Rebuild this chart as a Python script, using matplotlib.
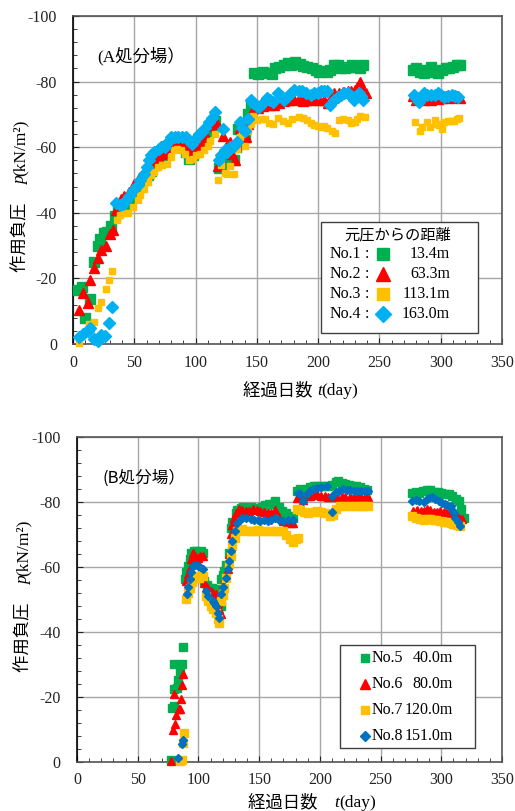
import matplotlib
matplotlib.use('Agg')
import matplotlib.pyplot as plt
from matplotlib.ticker import MultipleLocator
from matplotlib.patches import Rectangle

plt.rcParams['font.family'] = ['Liberation Serif', 'Noto Sans CJK JP']
plt.rcParams['axes.unicode_minus'] = False

# ---- (A処分場) : (経過日数, 作用負圧) ----
no1 = [(4, -16.5), (7, -17.3), (10, -7.9), (14, -13.7), (17, -24.9), (20, -29.9), (22, -31.9),
       (25, -33.9), (28, -34.1), (31, -36.1), (34, -39.1), (37, -40.5), (40, -41.5), (43, -42.3),
       (46, -43.8), (49, -45), (52, -46.5), (55, -48.4), (58, -50), (61, -51.5), (64, -52.6),
       (67, -54.5), (70, -56), (73, -57.5), (77, -60.5), (80, -60.5), (83, -60.8), (86, -60.5),
       (89, -60), (92, -58.5), (95, -56.5), (98, -57.5), (101, -58.5), (104, -60), (107, -62),
       (110, -65), (113, -66.5), (116, -68), (119, -53.7), (121, -55), (124, -56), (127, -56.5),
       (131, -56.2), (133, -60), (135, -65.6), (138, -64), (140, -63), (143, -70), (145, -72.5),
       (148, -82.5), (151, -82.3), (155, -82.8), (158, -82.5), (162, -82.2), (165, -84),
       (168, -84.5), (172, -85), (175, -85.6), (178, -85.2), (181, -86), (185, -85.5),
       (188, -84.8), (191, -84.5), (195, -84), (198, -83.5), (201, -83), (204, -83.2),
       (207, -82.8), (210, -83.5), (213, -85), (216, -85.2), (219, -84), (222, -84.2),
       (225, -84.5), (228, -85), (231, -84.5), (234, -84.2), (237, -85),
       (277, -83.6), (280, -84), (283, -83), (286, -82.5), (289, -83.5), (292, -84.6),
       (295, -83), (298, -82.5), (301, -83.5), (304, -84), (307, -84.2), (310, -84.5),
       (313, -85), (316, -85)]
no2 = [(5, -10.4), (8, -15.6), (12, -12.6), (14, -19.5), (17, -23.1), (20, -26.1), (23, -28.7),
       (27, -29.8), (30, -33.4), (33, -34.7), (35, -40.8), (39, -44.3), (42, -45), (46, -46.4),
       (50, -48.9), (53, -50), (55, -50.9), (58, -52.5), (61, -54.4), (64, -55.5), (66, -56.5),
       (69, -57.5), (72, -58), (75, -58.3), (78, -60), (80, -61.5), (84, -61.5), (88, -61.5),
       (91, -61), (95, -59), (98, -59.5), (100, -60), (103, -61), (105, -62.2), (108, -64),
       (111, -66.6), (114, -67), (117, -67.6), (118, -54.4), (120, -57), (122, -63.5),
       (125, -60), (128, -61.5), (130, -58), (132, -56), (134, -61), (136, -66), (139, -65),
       (141, -63), (143, -67), (146, -69.6), (148, -72), (151, -71.9), (155, -72.5),
       (158, -73.5), (161, -73), (164, -72.9), (168, -73.5), (172, -74), (176, -74.4),
       (180, -74.5), (184, -74.8), (188, -74.2), (191, -74.4), (195, -74.5), (198, -74.8),
       (201, -74.4), (205, -74.4), (208, -73.5), (211, -75.5), (213, -76.4), (217, -76.6),
       (220, -76.8), (224, -77), (227, -77.2), (230, -77.5), (232, -78.5), (234, -80),
       (236, -78), (239, -76.4),
       (277, -75.5), (280, -74.5), (283, -74.8), (286, -74.5), (289, -75), (292, -74.5),
       (295, -75), (298, -74.8), (301, -75), (304, -75.5), (307, -75), (310, -75.2),
       (313, -75.5), (316, -75)]
no3 = [(5, -0.3), (13, -6.1), (17, -6.8), (20, -10.9), (23, -12.9), (27, -16.7), (29, -19.5),
       (32, -22.4), (36, -37.8), (38, -39.3), (42, -39.8), (45, -40), (49, -41.8), (53, -43.8),
       (55, -45.5), (58, -47.4), (61, -49.5), (64, -51.4), (66, -52.5), (69, -54), (73, -54.5),
       (77, -55), (80, -57), (82, -59), (85, -59.5), (88, -59), (91, -58), (95, -56),
       (98, -56.5), (100, -57.5), (104, -58), (107, -59), (110, -60.5), (112, -62), (116, -64),
       (118, -50.1), (121, -54.5), (124, -52), (126, -51.9), (128, -54.4), (131, -51.7),
       (134, -59.5), (136, -63), (138, -64), (140, -60.5), (143, -65), (145, -67), (147, -69.6),
       (150, -68.3), (154, -68.5), (157, -68.5), (160, -67.5), (163, -67.1), (167, -68.8),
       (171, -68), (175, -67.5), (179, -68.5), (184, -69.1), (188, -68.8), (191, -68.3),
       (194, -67.5), (197, -66.8), (200, -66.5), (202, -66.1), (205, -66.5), (207, -65.8),
       (211, -65), (214, -64.3), (217, -68.3), (220, -68.5), (224, -68.3), (227, -67.5),
       (230, -67.8), (232, -68.5), (234, -69.5), (238, -69.1),
       (279, -67.8), (283, -64.8), (285, -66.1), (289, -67.8), (291, -66.1), (295, -68.3),
       (297, -67), (299, -66.8), (301, -65.5), (303, -67.8), (306, -68), (308, -68.1),
       (311, -68), (313, -68.5), (315, -68.8)]
no4 = [(5, -2), (8, -3.2), (12, -4), (14, -4.8), (17, -1.4), (20, -1), (23, -2.7), (26, -2.4),
       (29, -6.3), (32, -11.2), (35, -43), (38, -42.5), (41, -42.8), (43, -43.8), (46, -45),
       (49, -46.9), (53, -48.4), (55, -50), (58, -51.9), (60, -54), (62, -56), (64, -57.5),
       (66, -58.5), (70, -59.5), (72, -60), (75, -60), (78, -62), (80, -63), (83, -63.2),
       (86, -63.2), (89, -63), (92, -63.2), (95, -62), (97, -61), (99, -62), (101, -63),
       (103, -64), (105, -64.5), (108, -66), (111, -67.6), (113, -69), (116, -70.6), (119, -56),
       (121, -57.5), (122, -65.6), (124, -59), (126, -58.5), (128, -60), (131, -60.5),
       (134, -61.5), (136, -67.6), (138, -66), (140, -65), (143, -68.6), (145, -74.4),
       (147, -73.6), (150, -72.6), (152, -72.4), (155, -73.5), (158, -74.9), (161, -74.5),
       (163, -73.9), (167, -76.4), (170, -75.5), (172, -74.4), (175, -75.5), (178, -76.5),
       (180, -77.5), (184, -77), (187, -77), (190, -76.5), (194, -76), (197, -76.5),
       (200, -76.5), (202, -77), (205, -77), (207, -77), (210, -72.9), (213, -74.5),
       (216, -75.4), (219, -76), (221, -76.5), (224, -76.4), (227, -75.5), (229, -74.4),
       (231, -75.5), (233, -76.4), (235, -75.5), (237, -74.4),
       (278, -76), (280, -75), (282, -73.9), (284, -75), (286, -76.4), (289, -76), (292, -76),
       (295, -75.8), (298, -76.4), (300, -76), (303, -75.4), (306, -75.5), (309, -76),
       (312, -75.5), (314, -75.4)]

# ---- (B処分場) ----
no5 = [(77, -0.5), (78, -16.7), (79.5, -17.1), (79.5, -30.3), (80, -22.6), (82, -22.9),
       (83.5, -25.1), (85, -27.7), (86.3, -30.1), (87.7, -35.4), (88.6, -56.2), (90, -58.5),
       (91.3, -60.3), (93, -62.5), (94, -64.4), (96, -65), (98, -64.9), (100, -64.5),
       (102, -64.8), (103.5, -64.4), (104.9, -55.7), (107, -54.5), (109, -53.6), (111, -53.5),
       (113, -53), (114.4, -53.1), (116, -51), (117, -49.5), (118.5, -48), (118.5, -56.2),
       (120, -57.5), (121.2, -58.8), (123, -60.5), (125.3, -64.4), (126.6, -72.1), (128, -74),
       (130.7, -76.7), (132, -77.5), (134.8, -78.3), (137, -78.5), (140, -78.3), (143, -78.5),
       (146, -78.2), (149, -78.1), (152, -78.5), (155, -79), (158, -79.3), (161, -79.5),
       (163, -80.3), (166, -78.5), (169, -77.2), (172, -76.5), (175, -75.7), (178, -75.2),
       (181, -83.4), (184, -83.9), (186, -83.2), (189, -84), (192, -84.5), (195, -84.9),
       (198, -85), (201, -84.9), (204, -85), (207, -85), (210, -85.2), (213, -86.3),
       (215, -86.5), (218, -86), (221, -85.6), (224, -85.3), (227, -85), (230, -84.9),
       (233, -84.5), (236, -84), (239, -83.6),
       (276, -82.9), (279, -83), (282, -82.9), (285, -83.3), (288, -83.6), (291, -83.6),
       (294, -83.2), (297, -83), (300, -82.9), (303, -82.6), (306, -82.4), (309, -82),
       (312, -81), (314.5, -80.3), (316, -78), (318.6, -75.2)]
no6 = [(77.5, -0.3), (79, -9.9), (80, -20.8), (80.8, -11.6), (81.6, -14.4), (83.6, -16.4),
       (85, -16.4), (85.5, -19.5), (86.3, -23.6), (87.7, -27), (90, -55.7), (91, -58),
       (92.7, -59.8), (94, -62.5), (95.4, -64.4), (97, -63.5), (99.5, -62.9), (101, -63.5),
       (103.5, -63.4), (104.9, -55.2), (107, -54), (110.3, -52.6), (112, -52), (114.4, -51.6),
       (116, -49), (117, -47), (118.5, -45.4), (119.9, -54.7), (122, -57), (124, -59.3),
       (125.5, -64), (126.6, -70.1), (128, -73), (129.3, -75.2), (131, -76.5), (133.4, -77.7),
       (136, -77.5), (139, -77.2), (142, -77.2), (145, -77.7), (148, -77.5), (151, -77.2),
       (154, -77), (157, -76.7), (160, -76.5), (163, -77.5), (166, -75.5), (169.8, -74.2),
       (173, -73.8), (176, -73.6), (178, -73.6), (181, -81.3), (184, -81.5), (186, -80.5),
       (189, -81.8), (192, -82), (195, -82.2), (198, -82.4), (201, -82), (204, -81.8),
       (207, -81.5), (211, -81.8), (214, -81.5), (218, -81.5), (221, -81.5), (225, -81.5),
       (228, -81.8), (231, -81.5), (234, -81.5), (237, -81.5), (240, -81.5),
       (277, -77.2), (280, -77.5), (283, -77.2), (285.5, -77.2), (288, -77.8), (291, -77.5),
       (294, -77), (296.6, -77), (299, -77.2), (302, -77), (305, -76.8), (307.6, -76.7),
       (310, -76.5), (313, -75.5), (315, -75), (317, -74.7)]
no7 = [(84.9, -0.3), (86.3, -0.5), (87.1, -5.8), (88.2, -8.9), (90, -50.1), (91, -52),
       (92.7, -53.6), (95, -55.5), (96.7, -57.2), (99, -57), (100.8, -56.7), (103.5, -57.2),
       (106.3, -51.1), (108, -49.5), (110.3, -48), (112, -47), (114.4, -45.9), (116, -44),
       (117.1, -42.9), (118.5, -49.5), (120, -51.5), (121.2, -53.6), (123, -56.5),
       (125.3, -60.8), (126.5, -63.5), (128, -66.5), (130, -69), (132.1, -71.1), (134, -71.5),
       (136.1, -71.6), (139, -71.2), (142.9, -71.1), (146, -71.2), (149, -71.3), (151, -71.1),
       (155, -71.2), (158.8, -71.1), (162, -71), (166, -71.1), (169.8, -71.1), (172, -70),
       (175.3, -68.5), (178, -67.8), (180, -68.5), (182.2, -69), (181, -77.7), (184, -77.5),
       (187, -77), (190.5, -76.7), (194, -77), (197.4, -77.2), (201, -77), (204, -76.5),
       (208.4, -75.7), (211, -76), (213, -78), (216.7, -78.8), (220, -78.8), (225, -78.8),
       (229, -78.9), (233, -78.8), (236, -78.8), (240, -78.8),
       (276, -75.7), (279, -75.2), (282.8, -74.7), (286, -74.5), (288, -74.8), (291, -74.7),
       (294, -74.5), (296, -74.6), (299.3, -74.2), (302, -74), (305, -73.8), (307.6, -73.6),
       (310, -73.2), (313, -73), (315.8, -72.6)]
no8 = [(83, -1.3), (86.3, -5.4), (87.7, -6.9), (90.8, -51.6), (91.5, -54), (92.7, -56.2),
       (94, -58.5), (95.4, -60.3), (97, -60.5), (99.5, -60.3), (101, -60), (103.5, -59.3),
       (106.3, -52.6), (108, -51.2), (111.7, -49.5), (113, -48.8), (114.4, -48), (116, -46),
       (117.1, -44.4), (118.5, -51.6), (120, -54), (122.6, -56.7), (124, -59.5),
       (125.3, -61.8), (126.5, -65), (128, -68), (130, -71), (132.1, -73.6), (134, -74.5),
       (136.1, -75.2), (139, -75), (142.9, -74.7), (146, -74.5), (149, -74.4), (150.5, -74.2),
       (154, -74.4), (157, -74.2), (160, -74.5), (163, -75), (166, -74.5), (170, -74.2),
       (174, -74.5), (178, -74.4), (182.2, -82.9), (184, -82.5), (186.4, -80.3), (189, -82.5),
       (192, -83.5), (194.6, -83.9), (198, -84.2), (201, -84.5), (205.6, -84.9),
       (209.8, -81.8), (209.8, -77), (213, -83), (216, -83.5), (219.4, -83.9), (222, -83.8),
       (225, -83.6), (228, -83.5), (230.4, -83.4), (234, -83.4), (237, -83.5), (240, -83.4),
       (275.9, -80.3), (279, -80.5), (282, -80.2), (285.5, -80.1), (288, -80.8), (290, -81.2),
       (292.4, -81.5), (295, -80.8), (298, -80.2), (300.7, -79.8), (303, -79.5), (305, -79),
       (307.6, -78.8), (309, -77.5), (310.5, -76.5), (311.7, -75.2), (314, -73.8),
       (315.8, -72.6)]

labels_a = ['No.1', 'No.2', 'No.3', 'No.4']
dist_a = ['13.4m', '63.3m', '113.1m', '163.0m']
labels_b = ['No.5', 'No.6', 'No.7', 'No.8']
dist_b = ['40.0m', '80.0m', '120.0m', '151.0m']

green = '#00B050'
red = '#FF0000'
yellow = '#FFC000'
cyan = '#00B0F0'
blue = '#0070C0'

fig = plt.figure(figsize=(5.15, 8.11), dpi=100)
axA = fig.add_axes([73/515, 1 - 344/811, 429/515, 328/811])
axB = fig.add_axes([77/515, 1 - 762/811, 425/515, 325/811])


def style_axes(ax, ypad, xpad):
    ax.set_xlim(0, 350)
    ax.set_ylim(0, -100)
    ax.xaxis.set_major_locator(MultipleLocator(50))
    ax.xaxis.set_minor_locator(MultipleLocator(10))
    ax.yaxis.set_major_locator(MultipleLocator(20))
    ax.yaxis.set_minor_locator(MultipleLocator(4))
    ax.grid(True, which='major', color='#a6a6a6', lw=1)
    ax.set_axisbelow(True)
    ax.tick_params(which='both', direction='in', labelsize=11.5, colors='#222222')
    ax.tick_params(which='major', length=4)
    ax.tick_params(which='minor', length=3)
    ax.tick_params(axis='y', pad=ypad)
    ax.tick_params(axis='x', pad=xpad)
    for s in ax.spines.values():
        s.set_color('#555555')
        s.set_linewidth(1.2)
    ax.spines['left'].set_color('black')


def series(ax, data, marker, ms, color, z):
    d, v = zip(*data)
    ax.plot(d, v, ls='none', marker=marker, ms=ms, color=color, mec=color,
            clip_on=False, zorder=z)


def xlabel_parts(ax, x, y, gap):
    t1 = ax.text(x, y, '経過日数' + gap, transform=ax.transAxes, fontsize=12.5,
                 ha='left', va='baseline')
    t2 = ax.annotate('t', xy=(1, 0), xycoords=t1, ha='left', va='bottom',
                     fontsize=12.5, style='italic')
    ax.annotate('(day)', xy=(1, 0), xycoords=t2, ha='left', va='bottom', fontsize=12.5)


def ylabel_parts(ax, x, y, gap):
    t1 = ax.text(x, y, '作用負圧' + gap, transform=ax.transAxes, fontsize=12.5,
                 rotation=90, rotation_mode='anchor', ha='left', va='baseline')
    t2 = ax.annotate('p', xy=(1, 1), xycoords=t1, ha='right', va='bottom',
                     fontsize=12.5, style='italic', rotation=90)
    ax.annotate('(kN/m²)', xy=(1, 1), xycoords=t2, ha='right', va='bottom',
                fontsize=12.5, rotation=90)


# ---------- A ----------
style_axes(axA, 11.5, 8)
series(axA, no1, 's', 6.5, green, 3)
series(axA, no2, '^', 7.5, red, 4)
series(axA, no3, 's', 5, yellow, 5)
series(axA, no4, 'D', 6.5, cyan, 6)
axA.text(0.056, 0.878, '(A処分場）', transform=axA.transAxes, fontsize=12.5,
         ha='left', va='center')
xlabel_parts(axA, 0.396, -0.155, ' ')
ylabel_parts(axA, -0.112, 0.22, '　')

axA.add_patch(Rectangle((0.578, 0.034), 0.365, 0.338, transform=axA.transAxes,
                        facecolor='white', edgecolor='#404040', lw=1, zorder=8))
axA.text(0.756, 0.332, '元圧からの距離', transform=axA.transAxes, fontsize=11,
         ha='center', va='center', zorder=9)
marks_a = [('s', 8.5, green), ('^', 9.5, red), ('s', 8.5, yellow), ('D', 8, cyan)]
for i, (lab, dist, mk) in enumerate(zip(labels_a, dist_a, marks_a)):
    yy = 0.274 - i * 0.061
    axA.text(0.597, yy, lab, transform=axA.transAxes, fontsize=11.5,
             ha='left', va='center', zorder=9)
    axA.text(0.685, yy, ':', transform=axA.transAxes, fontsize=11.5,
             ha='center', va='center', zorder=9)
    axA.plot([0.723], [yy], transform=axA.transAxes, marker=mk[0], ms=mk[1],
             color=mk[2], ls='none', zorder=9, clip_on=False)
    axA.text(0.879, yy, dist, transform=axA.transAxes, fontsize=11.5,
             ha='right', va='center', zorder=9)

# ---------- B ----------
style_axes(axB, 12, 7)
series(axB, no5, 's', 5.5, green, 3)
series(axB, no6, '^', 6, red, 4)
series(axB, no7, 's', 5.5, yellow, 5)
series(axB, no8, 'D', 4, blue, 6)
axB.text(0.059, 0.874, '(B処分場）', transform=axB.transAxes, fontsize=12,
         ha='left', va='center', family=['Noto Sans CJK JP'])
xlabel_parts(axB, 0.402, -0.138, '　')
ylabel_parts(axB, -0.115, 0.277, '　')

axB.add_patch(Rectangle((0.619, 0.043), 0.317, 0.317, transform=axB.transAxes,
                        facecolor='white', edgecolor='#404040', lw=1, zorder=8))
marks_b = [('s', 6, green), ('^', 6.5, red), ('s', 6, yellow), ('D', 5, blue)]
for i, (lab, dist, mk) in enumerate(zip(labels_b, dist_b, marks_b)):
    yy = 0.32 - i * 0.08
    axB.plot([0.678], [yy], transform=axB.transAxes, marker=mk[0], ms=mk[1],
             color=mk[2], ls='none', zorder=9, clip_on=False)
    axB.text(0.694, yy, lab, transform=axB.transAxes, fontsize=11.5,
             ha='left', va='center', zorder=9)
    axB.text(0.885, yy, dist, transform=axB.transAxes, fontsize=11.5,
             ha='right', va='center', zorder=9)

fig.savefig('out.png', dpi=100)
